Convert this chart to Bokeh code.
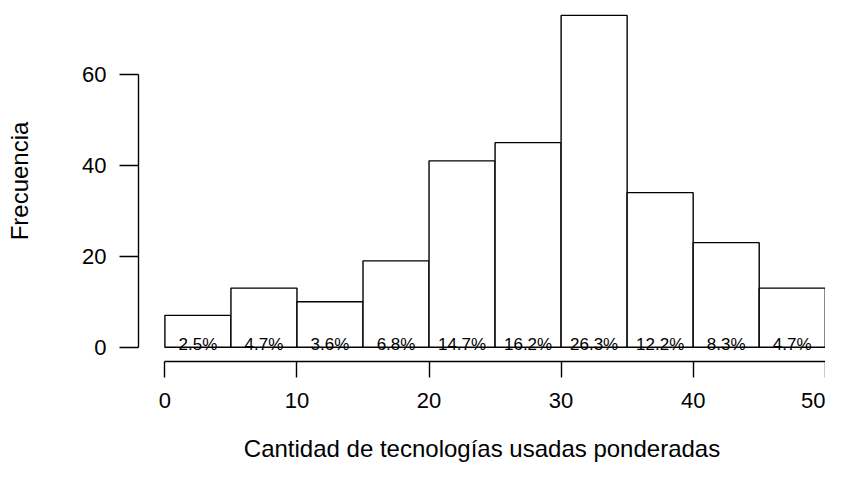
from bokeh.plotting import figure
from bokeh.models import Range1d, FixedTicker, ColumnDataSource
from bokeh.core.properties import value
from bokeh.embed import file_html
from bokeh.resources import INLINE

# Histogram data (bin edges and counts)
bin_edges = [0, 5, 10, 15, 20, 25, 30, 35, 40, 45, 50]
counts = [7, 13, 10, 19, 41, 45, 73, 34, 23, 13]
x_ticks = [0, 10, 20, 30, 40, 50]
y_ticks = [0, 20, 40, 60]
x_title = "Cantidad de tecnologías usadas ponderadas"
y_title = "Frecuencia"

total = sum(counts)
pct_labels = [f"{c / total * 100:.1f}%" for c in counts]
lefts = bin_edges[:-1]
rights = bin_edges[1:]
mids = [(a + b) / 2 for a, b in zip(lefts, rights)]
zeros = [0] * len(counts)

src = ColumnDataSource(dict(left=lefts, right=rights, top=counts, bottom=zeros,
                            mid=mids, lab=pct_labels))

FONT = "Liberation Sans"

p = figure(width=825, height=464, output_backend="svg", toolbar_location=None,
           x_range=Range1d(-2, 50.02), y_range=Range1d(-3.15, 76.28),
           min_border_left=138, min_border_right=0, min_border_top=0,
           min_border_bottom=103)
p.outline_line_color = None
p.xgrid.visible = False
p.ygrid.visible = False
p.background_fill_color = "white"
p.border_fill_color = "white"

p.quad(left="left", right="right", top="top", bottom="bottom", source=src,
       fill_color="white", line_color="black", line_width=1.4)

p.text(x="mid", y="bottom", text="lab", source=src, text_align="center",
       text_baseline="alphabetic", y_offset=-3, text_font=value(FONT),
       text_font_size="17px", text_color="black")

# x axis
xa = p.xaxis[0]
xa.ticker = FixedTicker(ticks=x_ticks)
xa.bounds = (x_ticks[0], x_ticks[-1])
xa.minor_tick_line_color = None
xa.major_tick_in = 0
xa.major_tick_out = 16
xa.major_label_standoff = 15
xa.major_label_text_font = FONT
xa.major_label_text_font_size = "22px"
xa.major_label_text_color = "black"
xa.axis_line_width = 1.4
xa.major_tick_line_width = 1.4
xa.axis_line_color = "black"
xa.major_tick_line_color = "black"
xa.axis_label = x_title
xa.axis_label_text_font = FONT
xa.axis_label_text_font_size = "24px"
xa.axis_label_text_font_style = "normal"
xa.axis_label_text_color = "black"
xa.axis_label_standoff = 24

# y axis
ya = p.yaxis[0]
ya.ticker = FixedTicker(ticks=y_ticks)
ya.bounds = (y_ticks[0], y_ticks[-1])
ya.minor_tick_line_color = None
ya.major_tick_in = 0
ya.major_tick_out = 19
ya.major_label_standoff = 13
ya.major_label_orientation = "horizontal"
ya.major_label_text_font = FONT
ya.major_label_text_font_size = "22px"
ya.major_label_text_color = "black"
ya.axis_line_width = 1.4
ya.major_tick_line_width = 1.4
ya.axis_line_color = "black"
ya.major_tick_line_color = "black"
ya.axis_label = y_title
ya.axis_label_text_font = FONT
ya.axis_label_text_font_size = "24px"
ya.axis_label_text_font_style = "normal"
ya.axis_label_text_color = "black"
ya.axis_label_standoff = 46

open("out.html", "w").write(file_html(p, INLINE))
